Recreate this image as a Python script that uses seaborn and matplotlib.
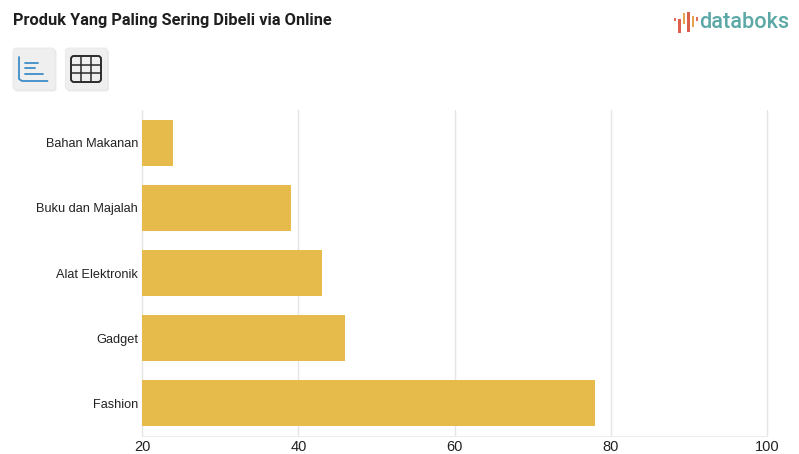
import matplotlib
matplotlib.use("Agg")
import matplotlib.pyplot as plt
from matplotlib.patches import FancyBboxPatch, Rectangle
import pandas as pd
import seaborn as sns

TITLE = "Produk Yang Paling Sering Dibeli via Online"
categories = ["Bahan Makanan", "Buku dan Majalah", "Alat Elektronik", "Gadget", "Fashion"]
values = [24, 39, 43, 46, 78]
x_ticks = [20, 40, 60, 80, 100]

W, H = 799, 454
sns.set_theme(style="white")
plt.rcParams["font.family"] = ["Liberation Sans", "DejaVu Sans"]

fig = plt.figure(figsize=(W / 100, H / 100), dpi=100, facecolor="white")
ax = fig.add_axes([142.2 / W, 1 - 436 / H, 625 / W, 326 / H])

df = pd.DataFrame({"produk": categories, "persen": values})
sns.barplot(data=df, y="produk", x="persen", color="#E6BA4B", saturation=1,
            width=0.705, linewidth=0, ax=ax, zorder=3)
ax.set_xlim(20, 100)
ax.set_ylim(4.5, -0.5)
ax.set_xlabel("")
ax.set_ylabel("")
ax.set_xticks(x_ticks)
ax.grid(axis="x", color="#E5E5E5", lw=1.0, zorder=0)
for line in ax.get_xgridlines():
    line.set_clip_on(False)
for side, spine in ax.spines.items():
    spine.set_visible(side == "bottom")
ax.spines["bottom"].set_color("#EDEDED")
ax.spines["bottom"].set_linewidth(0.8)
ax.tick_params(axis="x", length=0, pad=3, labelsize=10.5, labelcolor="#222222")
ax.tick_params(axis="y", length=0, pad=3, labelsize=9.2, labelcolor="#222222")

# Overlay in pixel coordinates for the header furniture
ov = fig.add_axes([0, 0, 1, 1], zorder=5)
ov.set_xlim(0, W)
ov.set_ylim(H, 0)
ov.axis("off")
ov.patch.set_alpha(0)

ov.text(13, 20, TITLE, fontsize=11.75, fontweight="bold", color="#1F1F1F",
        va="center", ha="left", family=["Roboto", "DejaVu Sans"])

# Toolbar buttons
for bx in (13, 65.5):
    ov.add_patch(FancyBboxPatch((bx + 1.5, 49.5), 42, 42, boxstyle="round,pad=0,rounding_size=3",
                                fc="#DCDCDC", ec="none", alpha=0.6))
    ov.add_patch(FancyBboxPatch((bx, 48), 42, 42, boxstyle="round,pad=0,rounding_size=3",
                                fc="#EFEFEF", ec="#E8E8E8", lw=0.6))

# Chart icon
blue = "#3D8DC9"
ov.plot([19, 19, 22, 47.5], [57, 79, 81, 81], color=blue, lw=1.3, solid_capstyle="round")
for y0, x1 in ((62.5, 38), (68, 35), (74, 42.5)):
    ov.plot([24.5, x1], [y0, y0], color=blue, lw=1.3, solid_capstyle="round")

# Table icon
ov.add_patch(FancyBboxPatch((71, 56), 30, 26, boxstyle="round,pad=0,rounding_size=3",
                            fc="none", ec="#2B2B2B", lw=1.4))
for gx in (81, 91):
    ov.plot([gx, gx], [56, 82], color="#2B2B2B", lw=1.1)
for gy in (64.5, 73):
    ov.plot([71, 101], [gy, gy], color="#2B2B2B", lw=1.1)

# Wordmark
for bx, y0, y1, c in ((675, 18, 21, "#E2705A"), (679.5, 19, 33, "#E0604E"),
                      (684, 13, 24, "#E8A34F"), (688.5, 12, 32, "#DC5F4C"),
                      (693, 16, 27, "#E8A34F"), (697, 17, 21, "#E2705A")):
    ov.add_patch(Rectangle((bx - 1.4, y0), 2.8, y1 - y0, fc=c, ec="none"))
ov.text(699, 23, "databoks", fontsize=15.6, fontweight="medium", color="#5BA8A6",
        va="center", ha="left", family=["Roboto", "DejaVu Sans"])

fig.savefig("out.png", dpi=100, facecolor="white")
